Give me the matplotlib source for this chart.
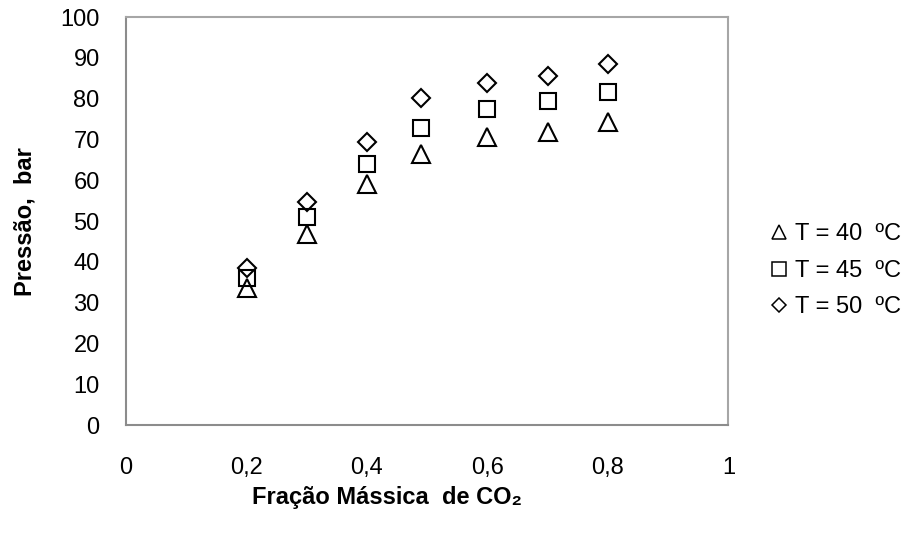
import numpy as np
import matplotlib
matplotlib.use('Agg')
import matplotlib.pyplot as plt

plt.rcParams['font.family'] = ['Liberation Sans', 'DejaVu Sans']

fracao = [0.2, 0.3, 0.4, 0.49, 0.6, 0.7, 0.8]
p_40 = [33.5, 46.8, 59.1, 66.4, 70.5, 71.8, 74.2]
p_45 = [36.1, 51.0, 64.1, 72.7, 77.4, 79.4, 81.7]
p_50 = [38.5, 54.7, 69.5, 80.1, 83.8, 85.5, 88.6]
labels = ['T = 40  ºC', 'T = 45  ºC', 'T = 50  ºC']

fig = plt.figure(figsize=(9.07, 5.34), dpi=100)
ax = fig.add_axes([0.139, 0.204, 0.664, 0.764])

ax.plot(fracao, p_40, '^', ms=13, mfc='none', mec='black', mew=1.5, label=labels[0])
ax.plot(fracao, p_45, 's', ms=12, mfc='none', mec='black', mew=1.5, label=labels[1])
ax.plot(fracao, p_50, 'D', ms=9, mfc='none', mec='black', mew=1.5, label=labels[2])

ax.set_xlim(0, 1)
ax.set_ylim(0, 100)
ax.set_xticks(np.arange(0, 1.01, 0.2))
ax.set_xticklabels(['0', '0,2', '0,4', '0,6', '0,8', '1'])
ax.set_yticks(range(0, 101, 10))
ax.tick_params(axis='both', length=0, labelsize=17)
ax.tick_params(axis='x', pad=23)
ax.tick_params(axis='y', pad=19)
for side in ['left', 'bottom']:
	ax.spines[side].set_color('#8c8c8c')
	ax.spines[side].set_linewidth(1.5)
for side in ['top', 'right']:
	ax.spines[side].set_color('#a6a6a6')
	ax.spines[side].set_linewidth(1.5)

ax.set_xlabel('Fração Mássica  de CO₂', fontsize=17, fontweight='bold')
ax.xaxis.set_label_coords(0.434, -0.15)
ax.set_ylabel('Pressão,  bar', fontsize=17, fontweight='bold', labelpad=17)

leg = ax.legend(loc='center left', bbox_to_anchor=(1.07, 0.378), frameon=False, fontsize=17,
		  handletextpad=0.35, handlelength=0.7, labelspacing=0.62, markerscale=0.8,
		  borderaxespad=0, borderpad=0)
for h in leg.legend_handles:
	h.set_markeredgewidth(1.1)

plt.savefig('out.png', dpi=100)
